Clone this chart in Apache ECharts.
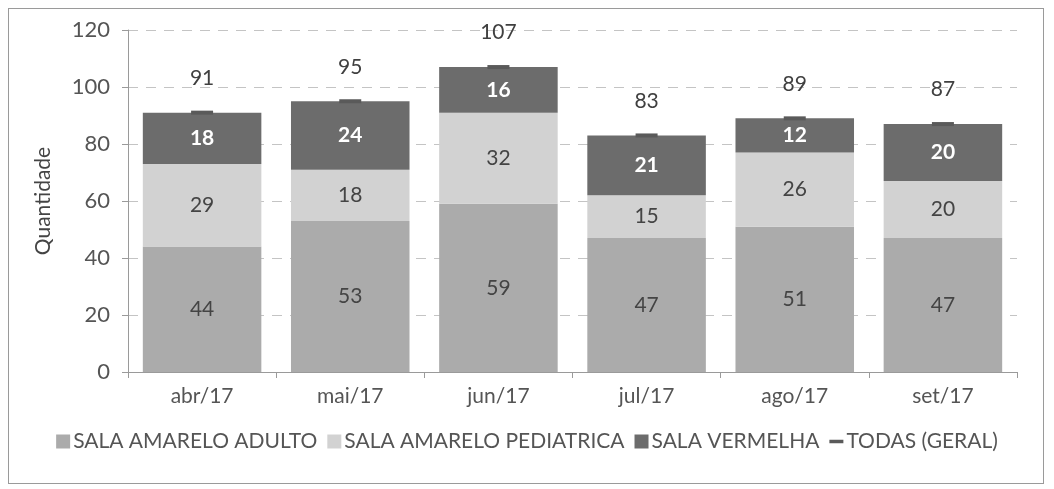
<!DOCTYPE html>
<html>
<head>
<meta charset="utf-8">
<script src="https://cdn.jsdelivr.net/npm/echarts@6/dist/echarts.min.js"></script>
<style>
  html, body { margin: 0; padding: 0; background: #fff; }
  #frame { position: absolute; left: 8px; top: 8px; width: 1036px; height: 476px; border: 1px solid #9a9a9a; box-sizing: border-box; }
  #chart { width: 1054px; height: 489px; }
</style>
</head>
<body>
<div id="frame"></div>
<div id="chart"></div>
<script>
// meses
var months = ['abr/17', 'mai/17', 'jun/17', 'jul/17', 'ago/17', 'set/17'];
// valores por sala
var adulto = [44, 53, 59, 47, 51, 47];
var pediatrica = [29, 18, 32, 15, 26, 20];
var vermelha = [18, 24, 16, 21, 12, 20];
var todas = [91, 95, 107, 83, 89, 87];
var seriesNames = ['SALA AMARELO ADULTO', 'SALA AMARELO PEDIATRICA', 'SALA VERMELHA', 'TODAS (GERAL)'];

var font = 'Lato, "Open Sans", sans-serif';
var chart = echarts.init(document.getElementById('chart'));

function barLabel(color, bold) {
  return {
    show: true,
    position: 'inside',
    color: color,
    fontSize: 21,
    fontWeight: bold ? 'bold' : 'normal',
    fontFamily: font
  };
}

var option = {
  backgroundColor: 'transparent',
  animation: false,
  textStyle: { fontFamily: font },
  grid: { left: 128, right: 37, top: 30, bottom: 117 },
  legend: {
    bottom: 32,
    left: 'center',
    itemWidth: 14,
    itemHeight: 14,
    itemGap: 10,
    textStyle: { fontSize: 21, color: '#555', fontFamily: font, padding: [0, 0, 0, -2] },
    data: [
      { name: seriesNames[0], icon: 'rect' },
      { name: seriesNames[1], icon: 'rect' },
      { name: seriesNames[2], icon: 'rect' },
      { name: seriesNames[3], icon: 'path://M0,0h10v2.5H0z' }
    ]
  },
  xAxis: {
    type: 'category',
    data: months,
    axisLine: { lineStyle: { color: '#9a9a9a', width: 1 } },
    axisTick: { show: true, length: 6, lineStyle: { color: '#9a9a9a' } },
    axisLabel: { fontSize: 21, color: '#555', margin: 14, fontFamily: font }
  },
  yAxis: {
    type: 'value',
    min: 0,
    max: 120,
    interval: 20,
    name: 'Quantidade',
    nameLocation: 'middle',
    nameGap: 74,
    nameTextStyle: { fontSize: 21, color: '#444', fontFamily: font },
    axisLine: { show: true, lineStyle: { color: '#9a9a9a', width: 1 } },
    axisTick: { show: true, length: 6, lineStyle: { color: '#9a9a9a' } },
    axisLabel: { fontSize: 22, color: '#555', margin: 18, fontFamily: font },
    splitLine: { show: true, lineStyle: { color: '#c4c4c4', type: [10, 8], width: 1 } }
  },
  series: [
    {
      name: seriesNames[0], type: 'bar', stack: 'total', data: adulto,
      barCategoryGap: '20%',
      itemStyle: { color: '#ababab' },
      label: barLabel('#444', false)
    },
    {
      name: seriesNames[1], type: 'bar', stack: 'total', data: pediatrica,
      itemStyle: { color: '#d2d2d2' },
      label: barLabel('#444', false)
    },
    {
      name: seriesNames[2], type: 'bar', stack: 'total', data: vermelha,
      itemStyle: { color: '#6c6c6c' },
      label: barLabel('#fff', true)
    },
    {
      name: seriesNames[3], type: 'line', data: todas,
      symbol: 'rect', symbolSize: [22, 4],
      itemStyle: { color: '#5a5a5a' },
      lineStyle: { width: 0, opacity: 0 },
      label: { show: true, position: 'top', distance: 22, fontSize: 21, color: '#404040', fontFamily: font },
      z: 5
    }
  ]
};
chart.setOption(option);
</script>
</body>
</html>
